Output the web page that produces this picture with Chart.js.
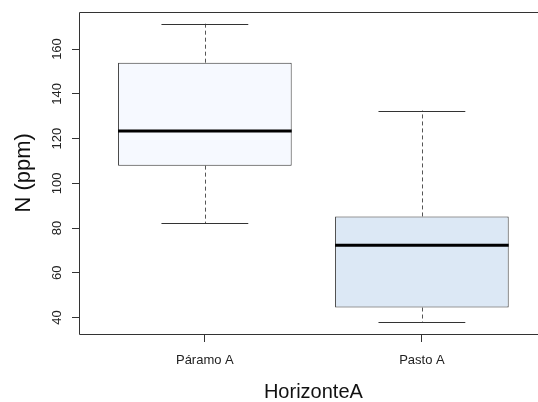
<!DOCTYPE html>
<html>
<head>
<meta charset="utf-8">
<script src="https://cdn.jsdelivr.net/npm/chart.js@4/dist/chart.umd.min.js"></script>
<style>
  html,body{margin:0;padding:0;background:#fff;overflow:hidden;}
  #wrap{width:538px;height:402px;}
</style>
</head>
<body>
<div id="wrap"><canvas id="grafico" width="538" height="402"></canvas></div>
<script>
const categorias=['Páramo A','Pasto A'];
const minimos=[82.2,38.0];
const q1=[107.9,44.5];
const medianas=[123.4,72.3];
const q3=[153.9,85.2];
const maximos=[171.3,132.5];
const ticksY=[40,60,80,100,120,140,160];
const cores=['#F6F9FF','#DCE8F5'];
const tituloX='HorizonteA', tituloY='N (ppm)';

// limites como no R (4% de folga); o lado direito do original está cortado em 2.535
const lo=Math.min(...minimos), hi=Math.max(...maximos), folga=(hi-lo)*0.04;
const xMin=0.42, xMax=2.535;
const fonte='"Liberation Sans", Arial, sans-serif';
const corLinha='#333';

// desenha bigodes, mediana, moldura e título do eixo x
const boxPlugin={
  id:'boxPlugin',
  afterDatasetsDraw(chart){
    const {ctx, chartArea:a, scales:{x,y}}=chart;
    ctx.save();
    categorias.forEach((c,i)=>{
      const cx=Math.round(x.getPixelForValue(i+1))+0.5;
      const capL=x.getPixelForValue(i+1-0.2), capR=x.getPixelForValue(i+1+0.2);
      const bL=x.getPixelForValue(i+1-0.4), bR=x.getPixelForValue(i+1+0.4);
      // bigodes tracejados
      ctx.strokeStyle='#555'; ctx.lineWidth=1; ctx.setLineDash([4,3]);
      ctx.beginPath();
      ctx.moveTo(cx,y.getPixelForValue(q3[i])); ctx.lineTo(cx,y.getPixelForValue(maximos[i]));
      ctx.moveTo(cx,y.getPixelForValue(q1[i])); ctx.lineTo(cx,y.getPixelForValue(minimos[i]));
      ctx.stroke();
      // extremos
      ctx.setLineDash([]); ctx.strokeStyle=corLinha;
      ctx.beginPath();
      const yMax=Math.round(y.getPixelForValue(maximos[i]))+0.5, yMin=Math.round(y.getPixelForValue(minimos[i]))+0.5;
      ctx.moveTo(capL,yMax); ctx.lineTo(capR,yMax);
      ctx.moveTo(capL,yMin); ctx.lineTo(capR,yMin);
      ctx.stroke();
      // mediana
      ctx.strokeStyle='#000'; ctx.lineWidth=3;
      ctx.beginPath();
      const ym=y.getPixelForValue(medianas[i]);
      ctx.moveTo(bL,ym); ctx.lineTo(bR,ym);
      ctx.stroke();
    });
    // moldura sem o lado direito (cortado no original)
    const l=Math.round(a.left)+0.5, t=Math.round(a.top)+0.5, b=Math.round(a.bottom)+0.5;
    ctx.strokeStyle=corLinha; ctx.lineWidth=1;
    ctx.beginPath();
    ctx.moveTo(a.right,t); ctx.lineTo(l,t); ctx.lineTo(l,b); ctx.lineTo(a.right,b);
    ctx.stroke();
    // título x centrado no meio das categorias, como no R
    ctx.fillStyle='#111'; ctx.font='20px '+fonte; ctx.textAlign='center'; ctx.textBaseline='middle';
    ctx.fillText(tituloX, x.getPixelForValue((1+categorias.length)/2), 392);
    ctx.restore();
  }
};

new Chart(document.getElementById('grafico'),{
  type:'bar',
  data:{
    datasets:[{
      data:categorias.map((c,i)=>({x:i+1,y:[q1[i],q3[i]]})),
      backgroundColor:cores,
      borderColor:corLinha,
      borderWidth:1,
      borderSkipped:false,
      categoryPercentage:1,
      barPercentage:0.8
    }]
  },
  options:{
    responsive:false,
    animation:false,
    layout:{padding:{top:11,right:0,left:0,bottom:0}},
    plugins:{legend:{display:false},tooltip:{enabled:false}},
    scales:{
      x:{
        type:'linear',
        offset:false,
        min:xMin, max:xMax,
        afterBuildTicks:s=>{ s.ticks=categorias.map((c,i)=>({value:i+1})); },
        afterFit:s=>{ s.height=68; },
        grid:{display:true,offset:false,drawOnChartArea:false,drawTicks:true,tickLength:8,color:corLinha},
        border:{display:false},
        ticks:{padding:11,color:'#222',font:{family:fonte,size:13},callback:v=>categorias[v-1]||''}
      },
      y:{
        min:lo-folga, max:hi+folga,
        afterBuildTicks:s=>{ s.ticks=ticksY.map(v=>({value:v})); },
        afterFit:s=>{ s.width=79; },
        grid:{display:true,drawOnChartArea:false,drawTicks:true,tickLength:7,color:corLinha},
        border:{display:false},
        ticks:{padding:4,minRotation:90,maxRotation:90,crossAlign:'center',color:'#222',font:{family:fonte,size:13}},
        title:{display:true,text:tituloY,color:'#111',font:{family:fonte,size:22,lineHeight:1},padding:{top:13,bottom:0}}
      }
    }
  },
  plugins:[boxPlugin]
});
</script>
</body>
</html>
